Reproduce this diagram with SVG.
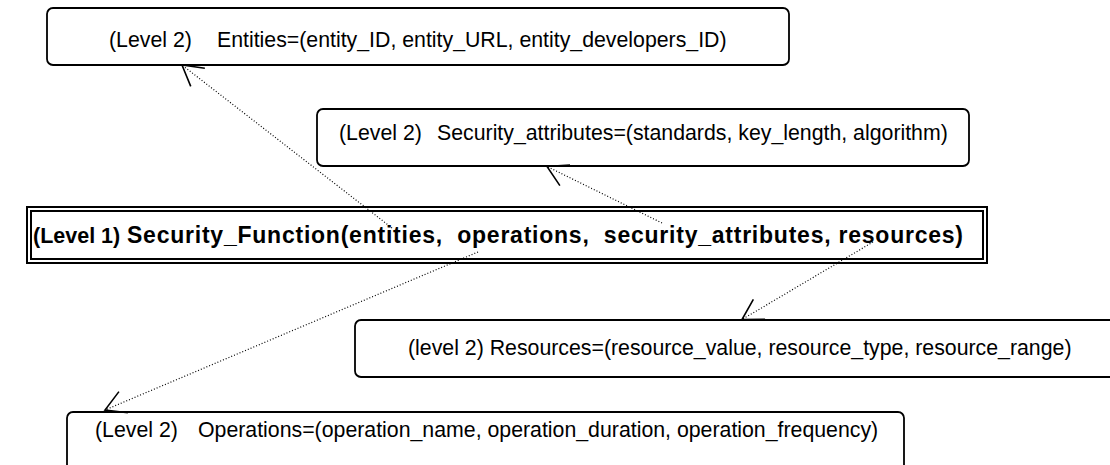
<svg xmlns="http://www.w3.org/2000/svg" width="1110" height="465" viewBox="0 0 1110 465">
  <defs>
    <style>
      .box { fill: #fff; stroke: #000; stroke-width: 1.8; }
      .frame { fill: none; stroke: #000; stroke-width: 2; }
      .lbl { font-family: "Liberation Sans", Arial, sans-serif; font-size: 21.3px; fill: #000; }
      .main { font-family: "Liberation Sans", Arial, sans-serif; font-size: 23px; font-weight: bold; fill: #000; }
      .link { fill: none; stroke: #000; stroke-width: 1.2; stroke-dasharray: 1 2; }
    </style>
    <marker id="open-arrow" markerUnits="userSpaceOnUse" orient="auto" refX="0" refY="0" markerWidth="30" markerHeight="30" overflow="visible">
      <path d="M -20 -11.5 L 0 0 L -20 11.5" fill="none" stroke="#000" stroke-width="1.6"/>
    </marker>
  </defs>
  <rect width="1110" height="465" fill="#fff"/>

  <g id="entities">
    <rect class="box" x="47" y="8" width="742" height="57" rx="6"/>
    <text class="lbl" y="46.5"><tspan x="109">(Level 2)</tspan><tspan x="217">Entities=(entity_ID, entity_URL, entity_developers_ID)</tspan></text>
  </g>

  <g id="security-attributes">
    <rect class="box" x="317" y="109" width="652" height="57" rx="6"/>
    <text class="lbl" y="140"><tspan x="339">(Level 2)</tspan><tspan x="437">Security_attributes=(standards, key_length, algorithm)</tspan></text>
  </g>

  <g id="security-function">
    <rect class="frame" x="27" y="207" width="960" height="56"/>
    <rect class="frame" x="31" y="211" width="952" height="48"/>
    <text class="main" y="242.5" xml:space="preserve"><tspan x="33" font-size="21.5">(Level 1)</tspan><tspan x="127" textLength="836" lengthAdjust="spacing">Security_Function(entities,  operations,  security_attributes, resources)</tspan></text>
  </g>

  <g id="resources">
    <rect class="box" x="355" y="320" width="800" height="57" rx="6"/>
    <text class="lbl" x="408" y="355">(level 2) Resources=(resource_value, resource_type, resource_range)</text>
  </g>

  <g id="operations">
    <rect class="box" x="67" y="412" width="837" height="80" rx="6"/>
    <text class="lbl" y="437"><tspan x="95">(Level 2)</tspan><tspan x="198">Operations=(operation_name, operation_duration, operation_frequency)</tspan></text>
  </g>

  <g id="connectors">
    <line class="link" x1="392" y1="228" x2="182" y2="65" marker-end="url(#open-arrow)"/>
    <line class="link" x1="662" y1="223" x2="547" y2="166.5" marker-end="url(#open-arrow)"/>
    <line class="link" x1="873" y1="242" x2="742" y2="319.5" marker-end="url(#open-arrow)"/>
    <line class="link" x1="478" y1="252" x2="105" y2="410" marker-end="url(#open-arrow)"/>
  </g>
</svg>
